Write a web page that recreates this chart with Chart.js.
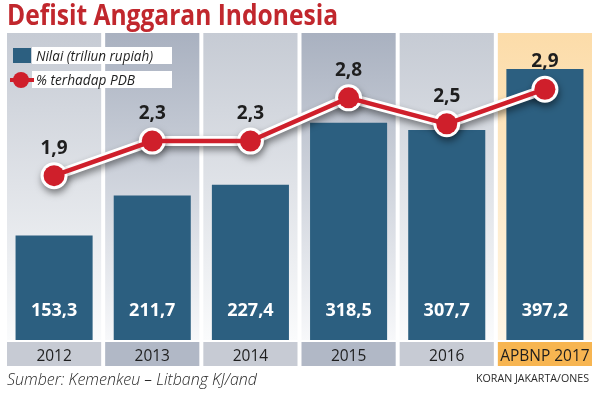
<!DOCTYPE html>
<html>
<head>
<meta charset="utf-8">
<script src="https://cdn.jsdelivr.net/npm/chart.js@4"></script>
<style>
  body { margin: 0; background: #fff; }
  #wrap { width: 603px; height: 393px; }
</style>
</head>
<body>
<div id="wrap"><canvas id="defisitChart" width="603" height="393"></canvas></div>
<script>
const years = ['2012', '2013', '2014', '2015', '2016', 'APBNP 2017'];
const nilai = [153.3, 211.7, 227.4, 318.5, 307.7, 397.2]; // triliun rupiah
const persenPdb = [1.9, 2.3, 2.3, 2.8, 2.5, 2.9];

const BLUE = '#2c5f80';
const RED = '#cf1f2b';

function fmt(v) {
  return v.toFixed(1).replace('.', ',');
}

// background columns, year row, labels, title, legend
const decor = {
  id: 'decor',
  beforeDatasetsDraw(chart) {
    const { ctx, chartArea: a, scales: { x } } = chart;
    const w = x.width / years.length;
    years.forEach((yr, i) => {
      const cx = x.getPixelForValue(i);
      const x0 = cx - w / 2 + 2;
      const x1 = cx + w / 2 - 2;
      const last = i === years.length - 1;
      const g = ctx.createLinearGradient(0, a.top, 0, a.bottom);
      if (last) {
        g.addColorStop(0, '#fcdca9');
        g.addColorStop(1, '#fff6e6');
      } else if (i % 2) {
        g.addColorStop(0, '#a9b1c0');
        g.addColorStop(1, '#f7f8fa');
      } else {
        g.addColorStop(0, '#c6cbd4');
        g.addColorStop(1, '#fafbfc');
      }
      ctx.fillStyle = g;
      ctx.fillRect(x0, a.top, x1 - x0, a.bottom - a.top);

      ctx.fillStyle = last ? '#f7b551' : (i % 2 ? '#b1b8c6' : '#c7cbd4');
      ctx.fillRect(x0, a.bottom + 2, x1 - x0, 24);

      ctx.save();
      ctx.fillStyle = '#1e1e1e';
      ctx.font = '17px "Open Sans"';
      ctx.textAlign = 'center';
      ctx.textBaseline = 'alphabetic';
      ctx.translate(cx, a.bottom + 21);
      ctx.scale(0.91, 1);
      ctx.fillText(yr, 0, 0);
      ctx.restore();
    });
  },
  afterDatasetsDraw(chart) {
    const { ctx, chartArea: a } = chart;
    ctx.save();
    ctx.textAlign = 'center';
    ctx.textBaseline = 'alphabetic';

    // bar values
    ctx.fillStyle = '#ffffff';
    ctx.font = 'bold 18px "Open Sans"';
    chart.getDatasetMeta(0).data.forEach((bar, i) => {
      ctx.fillText(fmt(nilai[i]), bar.x, a.bottom - 24);
    });

    // line values
    ctx.fillStyle = '#1e1e1e';
    ctx.font = 'bold 19px "Open Sans"';
    chart.getDatasetMeta(2).data.forEach((pt, i) => {
      ctx.fillText(fmt(persenPdb[i]), pt.x, pt.y - 22);
    });
    ctx.restore();
  },
  afterDraw(chart) {
    const { ctx } = chart;
    ctx.save();
    ctx.textBaseline = 'alphabetic';

    // title
    ctx.fillStyle = '#c1272d';
    ctx.font = 'bold 28px "Open Sans"';
    ctx.fillText('Defisit Anggaran Indonesia', 7, 25, 331);

    // legend
    ctx.fillStyle = '#ffffff';
    ctx.fillRect(32, 47, 140, 17);
    ctx.fillRect(32, 71, 140, 17);
    ctx.fillStyle = BLUE;
    ctx.fillRect(13, 48, 18, 15);
    ctx.strokeStyle = RED;
    ctx.lineWidth = 4;
    ctx.beginPath();
    ctx.moveTo(10, 80);
    ctx.lineTo(34, 80);
    ctx.stroke();
    ctx.fillStyle = RED;
    ctx.beginPath();
    ctx.arc(21, 80, 8, 0, Math.PI * 2);
    ctx.fill();
    ctx.fillStyle = '#1e1e1e';
    ctx.font = 'italic 15px "Open Sans"';
    ctx.fillText(chart.data.datasets[0].label, 36, 61, 117);
    ctx.fillText(chart.data.datasets[2].label, 36, 85, 99);

    // source and credit
    ctx.fillStyle = '#2a2a2a';
    ctx.font = 'italic 300 17px "Open Sans"';
    ctx.fillText('Sumber: Kemenkeu – Litbang KJ/and', 7, 385, 250);
    ctx.font = '11px "Open Sans"';
    ctx.textAlign = 'right';
    ctx.fillText('KORAN JAKARTA/ONES', 589, 382, 113);
    ctx.restore();
  },
  beforeDatasetDraw(chart, args) {
    if (args.index === 1) {
      const ctx = chart.ctx;
      ctx.save();
      ctx.shadowColor = 'rgba(0, 0, 0, 0.45)';
      ctx.shadowBlur = 7;
      ctx.shadowOffsetX = 1;
      ctx.shadowOffsetY = 4;
    }
  },
  afterDatasetDraw(chart, args) {
    if (args.index === 1) chart.ctx.restore();
  },
};

const ctx = document.getElementById('defisitChart').getContext('2d');
new Chart(ctx, {
  type: 'bar',
  data: {
    labels: years,
    datasets: [
      {
        label: 'Nilai (triliun rupiah)',
        data: nilai,
        backgroundColor: BLUE,
        barPercentage: 0.785,
        categoryPercentage: 1,
        yAxisID: 'y',
        order: 2,
      },
      {
        // white outline under the red line
        type: 'line',
        label: '',
        data: persenPdb,
        yAxisID: 'y1',
        borderColor: '#ffffff',
        borderWidth: 10,
        pointRadius: 13.5,
        pointBackgroundColor: '#ffffff',
        pointBorderWidth: 0,
        tension: 0,
        clip: false,
        order: 1,
      },
      {
        type: 'line',
        label: '% terhadap PDB',
        data: persenPdb,
        yAxisID: 'y1',
        borderColor: RED,
        borderWidth: 4.5,
        pointRadius: 10.5,
        pointBackgroundColor: RED,
        pointBorderWidth: 0,
        tension: 0,
        clip: false,
        order: 0,
      },
    ],
  },
  options: {
    responsive: false,
    animation: false,
    events: [],
    layout: {
      autoPadding: false,
      padding: { left: 5, right: 9, top: 33, bottom: 53 },
    },
    plugins: {
      legend: { display: false },
      tooltip: { enabled: false },
    },
    scales: {
      x: { display: false, offset: true },
      y: { display: false, min: 0, max: 450 },
      y1: { display: false, min: 0, max: 3.55, position: 'right' },
    },
  },
  plugins: [decor],
});
</script>
</body>
</html>
